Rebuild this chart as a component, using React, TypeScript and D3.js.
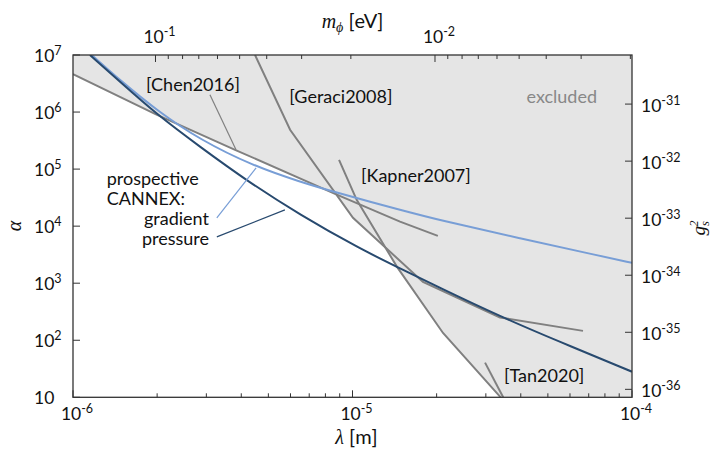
import React from "react";
import * as d3 from "d3";

const W = 714;
const H = 450;
const PLOT = { left: 73, right: 632, top: 55, bottom: 397.3 };

const HBARC = 1.973e-7;         // eV·m, m_phi = hbar c / lambda
const G2_PER_ALPHA = 7.25e-38;  // g_s^2 = alpha * const

// ── exclusion curves (lambda [m], alpha) ─────────────────────────────────────
const chenLambda = [1e-6, 1.99e-6, 3.8e-6, 8.66e-6, 1.479e-5, 2.02e-5];
const chenAlpha = [4.64e6, 8.98e5, 2.18e5, 3.69e4, 1.2e4, 6.76e3];

const geraciLambda = [4.48e-6, 5.98e-6, 1.004e-5, 1.787e-5, 3.37e-5, 6.68e-5];
const geraciAlpha = [1e7, 4.89e5, 1.4e4, 1054, 251, 146];

const kapnerLambda = [8.95e-6, 1.035e-5, 1.443e-5, 2.108e-5, 3.39e-5];
const kapnerAlpha = [1.455e5, 2.89e4, 1932, 134, 10];

const tanLambda = [2.98e-5, 3.46e-5];
const tanAlpha = [40.5, 10];

// ── prospective CANNEX ───────────────────────────────────────────────────────
const gradientLambda = [1.167e-6, 1.473e-6, 2.0e-6, 2.847e-6, 4.406e-6, 6.49e-6, 8.8e-6, 1.479e-5, 2.056e-5, 3.974e-5, 7.68e-5, 1e-4];
const gradientAlpha = [1e7, 3.61e6, 1.054e6, 3.27e5, 1.143e5, 5.98e4, 3.84e4, 1.93e4, 1.265e4, 6110, 3013, 2270];

const pressureLambda = [1.15e-6, 1.473e-6, 2.0e-6, 2.847e-6, 4.19e-6, 6.49e-6, 1.064e-5, 1.479e-5, 2.056e-5, 3.37e-5, 5.53e-5, 1e-4];
const pressureAlpha = [1e7, 3.4e6, 8.97e5, 2.46e5, 6.23e4, 1.58e4, 4000, 1820, 828, 262, 93.3, 28.1];

// ── ticks ────────────────────────────────────────────────────────────────────
const bottomTicks = [1e-6, 1e-5, 1e-4];
const leftTicks = [10, 1e2, 1e3, 1e4, 1e5, 1e6, 1e7];
const rightTicks = [1e-36, 1e-35, 1e-34, 1e-33, 1e-32, 1e-31];
const topTicks = [1e-1, 1e-2];

// ── annotation pointers [lambda, alpha] ──────────────────────────────────────
const chenPointer = [[3.09e-6, 2.01e6], [3.83e-6, 2.18e5]];
const gradientPointer = [[3.27e-6, 1.4e4], [4.52e-6, 1.05e5]];
const pressurePointer = [[3.27e-6, 6.49e3], [5.73e-6, 1.93e4]];

const GRAY = "#808080";
const FILL = "#e5e5e5";
const LIGHT = "#789ed6";
const DARK = "#284a6f";
const FONT = "Lato, 'Open Sans', sans-serif";
const MATH = "'Liberation Serif', 'DejaVu Serif', serif";

const zip = (l: number[], a: number[]) => l.map((v, i) => [v, a[i]] as [number, number]);

const chen = zip(chenLambda, chenAlpha);
const geraci = zip(geraciLambda, geraciAlpha);
const kapner = zip(kapnerLambda, kapnerAlpha);
const tan = zip(tanLambda, tanAlpha);
const gradient = zip(gradientLambda, gradientAlpha);
const pressure = zip(pressureLambda, pressureAlpha);

// log-log interpolation of a curve, Infinity outside its range
function logAlphaAt(pts: [number, number][], lam: number) {
  const n = pts.length;
  if (lam < pts[0][0] * 0.999999 || lam > pts[n - 1][0] * 1.000001) return Infinity;
  for (let i = 0; i < n - 1; i++) {
    const [l0, a0] = pts[i];
    const [l1, a1] = pts[i + 1];
    if (lam <= l1 * 1.000001) {
      const t = (Math.log10(lam) - Math.log10(l0)) / (Math.log10(l1) - Math.log10(l0));
      return Math.log10(a0) + Math.max(0, Math.min(1, t)) * (Math.log10(a1) - Math.log10(a0));
    }
  }
  return Infinity;
}

function Sup({ base, exp, x, y, anchor, size = 17.5 }: any) {
  return (
    <text x={x} y={y} textAnchor={anchor} fontFamily={FONT} fontSize={size} fill="#111">
      <tspan>{base}</tspan>
      {exp !== null && <tspan dy={-7} fontSize={12.5}>{exp}</tspan>}
    </text>
  );
}

export default function App() {
  const x = d3.scaleLog().domain([1e-6, 1e-4]).range([PLOT.left, PLOT.right]);
  const y = d3.scaleLog().domain([10, 1e7]).range([PLOT.bottom, PLOT.top]);
  const xm = d3.scaleLog().domain([HBARC / 1e-6, HBARC / 1e-4]).range([PLOT.left, PLOT.right]);
  const yg = d3.scaleLog().domain([10 * G2_PER_ALPHA, 1e7 * G2_PER_ALPHA]).range([PLOT.bottom, PLOT.top]);

  const line = d3.line<[number, number]>().x(d => x(d[0])).y(d => y(d[1]));
  const smooth = d3.line<[number, number]>().x(d => x(d[0])).y(d => y(d[1])).curve(d3.curveBasis);

  // lower envelope of the exclusion curves
  const lamEnd = kapnerLambda[kapnerLambda.length - 1];
  const samples = d3.range(0, 401).map(i => Math.pow(10, -6 + (i / 400) * (Math.log10(lamEnd) + 6)));
  const knots = [...chenLambda, ...geraciLambda, ...kapnerLambda].filter(l => l <= lamEnd);
  const lams = Array.from(new Set([...samples, ...knots])).sort((a, b) => a - b);
  const env: [number, number][] = lams.map(l => {
    const la = Math.min(logAlphaAt(chen, l), logAlphaAt(geraci, l), logAlphaAt(kapner, l));
    return [l, Math.pow(10, Math.max(1, la))];
  });
  const fillPts: [number, number][] = [...env, [1e-4, 10], [1e-4, 1e7], [1e-6, 1e7]];
  const fillPath = d3.line<[number, number]>().x(d => x(d[0])).y(d => y(d[1]))(fillPts) + "Z";

  // minor ticks
  const minorBottom: number[] = [];
  for (let e = -6; e < -4; e++) for (let k = 2; k <= 9; k++) minorBottom.push(k * Math.pow(10, e));
  const minorTop: number[] = [];
  for (let e = -3; e <= -1; e++) for (let k = 1; k <= 9; k++) {
    const v = k * Math.pow(10, e);
    if (v <= HBARC / 1e-6 && v >= HBARC / 1e-4) minorTop.push(v);
  }

  const expOf = (v: number) => Math.round(Math.log10(v));

  return (
    <svg width={W} height={H} style={{ position: "absolute", left: 0, top: 0, background: "#fff" }}>
      <defs>
        <clipPath id="plot-clip">
          <rect x={PLOT.left} y={PLOT.top} width={PLOT.right - PLOT.left} height={PLOT.bottom - PLOT.top} />
        </clipPath>
      </defs>

      <g clipPath="url(#plot-clip)">
        <path d={fillPath} fill={FILL} />
        {[chen, geraci, kapner, tan].map((c, i) => (
          <path key={i} d={line(c) || ""} fill="none" stroke={GRAY} strokeWidth={2} />
        ))}
        <path d={smooth(gradient) || ""} fill="none" stroke={LIGHT} strokeWidth={2} />
        <path d={smooth(pressure) || ""} fill="none" stroke={DARK} strokeWidth={2} />

        <path d={line(chenPointer as any) || ""} stroke={GRAY} strokeWidth={1.2} fill="none" />
        <path d={line(gradientPointer as any) || ""} stroke={LIGHT} strokeWidth={1.2} fill="none" />
        <path d={line(pressurePointer as any) || ""} stroke={DARK} strokeWidth={1.2} fill="none" />
      </g>

      {/* annotations */}
      <g fontFamily={FONT} fontSize={18} fill="#111">
        <text x={146} y={90.5}>[Chen2016]</text>
        <text x={289.3} y={103}>[Geraci2008]</text>
        <text x={361} y={182}>[Kapner2007]</text>
        <text x={504} y={382}>[Tan2020]</text>
        <text x={597} y={103} textAnchor="end" fill="#888">excluded</text>
        <text x={106.7} y={185}>prospective</text>
        <text x={106.7} y={205}>CANNEX:</text>
        <text x={209} y={225} textAnchor="end">gradient</text>
        <text x={209} y={245} textAnchor="end">pressure</text>
      </g>

      {/* ticks */}
      <g stroke="#333" strokeWidth={1}>
        {bottomTicks.map(v => <line key={"b" + v} x1={x(v)} x2={x(v)} y1={PLOT.bottom} y2={PLOT.bottom - 7} />)}
        {minorBottom.map(v => <line key={"bm" + v} x1={x(v)} x2={x(v)} y1={PLOT.bottom} y2={PLOT.bottom - 4} />)}
        {topTicks.map(v => <line key={"t" + v} x1={xm(v)} x2={xm(v)} y1={PLOT.top} y2={PLOT.top + 7} />)}
        {minorTop.filter(v => !topTicks.some(t => Math.abs(t - v) < 1e-12)).map(v => (
          <line key={"tm" + v} x1={xm(v)} x2={xm(v)} y1={PLOT.top} y2={PLOT.top + 4} />
        ))}
        {leftTicks.map(v => <line key={"l" + v} x1={PLOT.left} x2={PLOT.left + 7} y1={y(v)} y2={y(v)} />)}
        {rightTicks.map(v => <line key={"r" + v} x1={PLOT.right} x2={PLOT.right - 7} y1={yg(v)} y2={yg(v)} />)}
      </g>

      {/* frame */}
      <rect x={PLOT.left} y={PLOT.top} width={PLOT.right - PLOT.left} height={PLOT.bottom - PLOT.top}
        fill="none" stroke="#333" strokeWidth={1.3} />

      {/* tick labels */}
      {bottomTicks.map(v => <Sup key={"bl" + v} base="10" exp={String(expOf(v))} x={x(v) + 4} y={420} anchor="middle" />)}
      {topTicks.map(v => <Sup key={"tl" + v} base="10" exp={String(expOf(v))} x={xm(v) + 4} y={43} anchor="middle" />)}
      {leftTicks.map(v => (
        <Sup key={"ll" + v} base="10" exp={expOf(v) === 1 ? null : String(expOf(v))} x={34} y={y(v) + 7} anchor="start" />
      ))}
      {rightTicks.map(v => <Sup key={"rl" + v} base="10" exp={String(expOf(v))} x={641} y={yg(v) + 7.5} anchor="start" />)}

      {/* axis titles */}
      <text x={(PLOT.left + PLOT.right) / 2 + 4} y={444} textAnchor="middle" fontSize={20} fill="#111">
        <tspan fontFamily={MATH} fontStyle="italic">λ</tspan>
        <tspan fontFamily={FONT}> [m]</tspan>
      </text>
      <text x={(PLOT.left + PLOT.right) / 2} y={28} textAnchor="middle" fontSize={20} fill="#111">
        <tspan fontFamily={MATH} fontStyle="italic">m</tspan>
        <tspan fontFamily={MATH} fontStyle="italic" fontSize={14} dy={4}>ϕ</tspan>
        <tspan fontFamily={FONT} dy={-4}> [eV]</tspan>
      </text>
      <text transform="translate(21,226) rotate(-90)" textAnchor="middle" fontFamily={MATH} fontStyle="italic" fontSize={20} fill="#111">α</text>
      <text transform="translate(705,228) rotate(-90)" textAnchor="middle" fontFamily={MATH} fontStyle="italic" fontSize={19} fill="#111">
        <tspan>g</tspan>
        <tspan fontSize={12.5} dy={3.5}>s</tspan>
        <tspan fontSize={12.5} dx={-5.5} dy={-11}>2</tspan>
      </text>
    </svg>
  );
}
